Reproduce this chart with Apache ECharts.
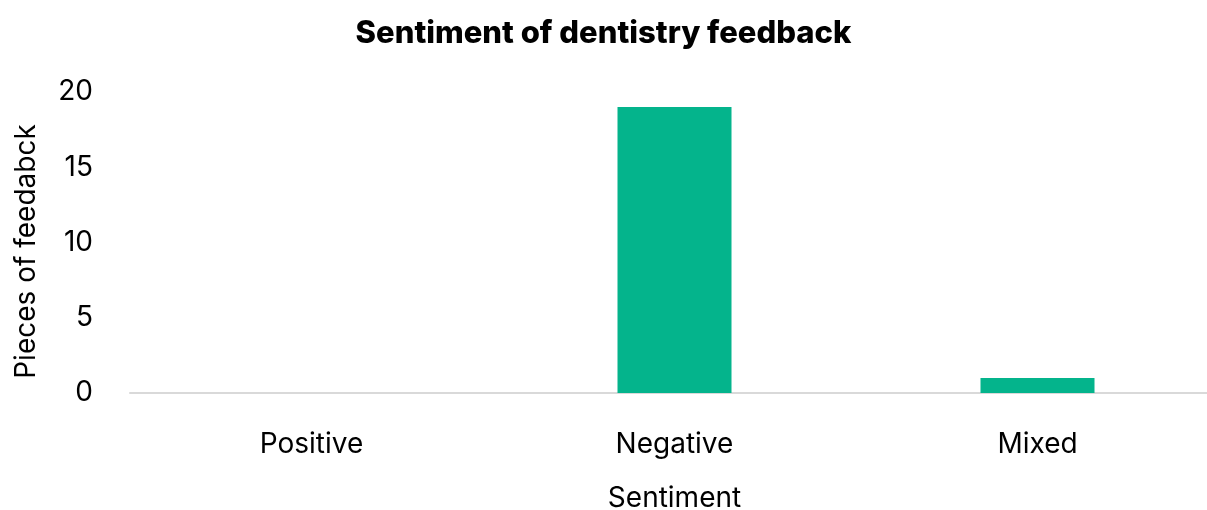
<!DOCTYPE html>
<html>
<head>
<meta charset="utf-8">
<script src="https://cdn.jsdelivr.net/npm/echarts@6/dist/echarts.min.js"></script>
<style>
  html, body { margin: 0; padding: 0; background: #fff; }
  #chart { width: 1207px; height: 510px; }
</style>
</head>
<body>
<div id="chart"></div>
<script>
// Feedback counts by sentiment
const categories = ['Positive', 'Negative', 'Mixed'];
const counts = [0, 19, 1];
const yTicks = { min: 0, max: 20, interval: 5 };

const FONT = 'Inter, "Open Sans", sans-serif';
const chart = echarts.init(document.getElementById('chart'), null, { renderer: 'canvas' });

chart.setOption({
  animation: false,
  title: {
    text: 'Sentiment of dentistry feedback',
    left: 'center',
    top: 13,
    textStyle: { fontFamily: FONT, fontWeight: 800, fontSize: 31, color: '#000' }
  },
  grid: { left: 130, right: -12, top: 92, bottom: 117, outerBoundsMode: 'none' },
  xAxis: {
    type: 'category',
    data: categories,
    name: 'Sentiment',
    nameLocation: 'middle',
    nameGap: 92,
    nameTextStyle: { fontFamily: FONT, fontSize: 28, color: '#000' },
    axisLine: { lineStyle: { color: '#d9d9d9', width: 2 } },
    axisTick: { show: false },
    axisLabel: { fontFamily: FONT, fontSize: 28, color: '#000', margin: 38 }
  },
  yAxis: {
    type: 'value',
    min: yTicks.min,
    max: yTicks.max,
    interval: yTicks.interval,
    name: 'Pieces of feedabck',
    nameLocation: 'middle',
    nameGap: 89,
    nameTextStyle: { fontFamily: FONT, fontSize: 28, color: '#000', padding: [0, 0, 0, -18] },
    splitLine: { show: false },
    axisLine: { show: false },
    axisTick: { show: false },
    axisLabel: { fontFamily: FONT, fontSize: 28, color: '#000', margin: 37 }
  },
  series: [{
    type: 'bar',
    data: counts,
    barWidth: 114,
    itemStyle: { color: '#04b48c' }
  }]
});
</script>
</body>
</html>
